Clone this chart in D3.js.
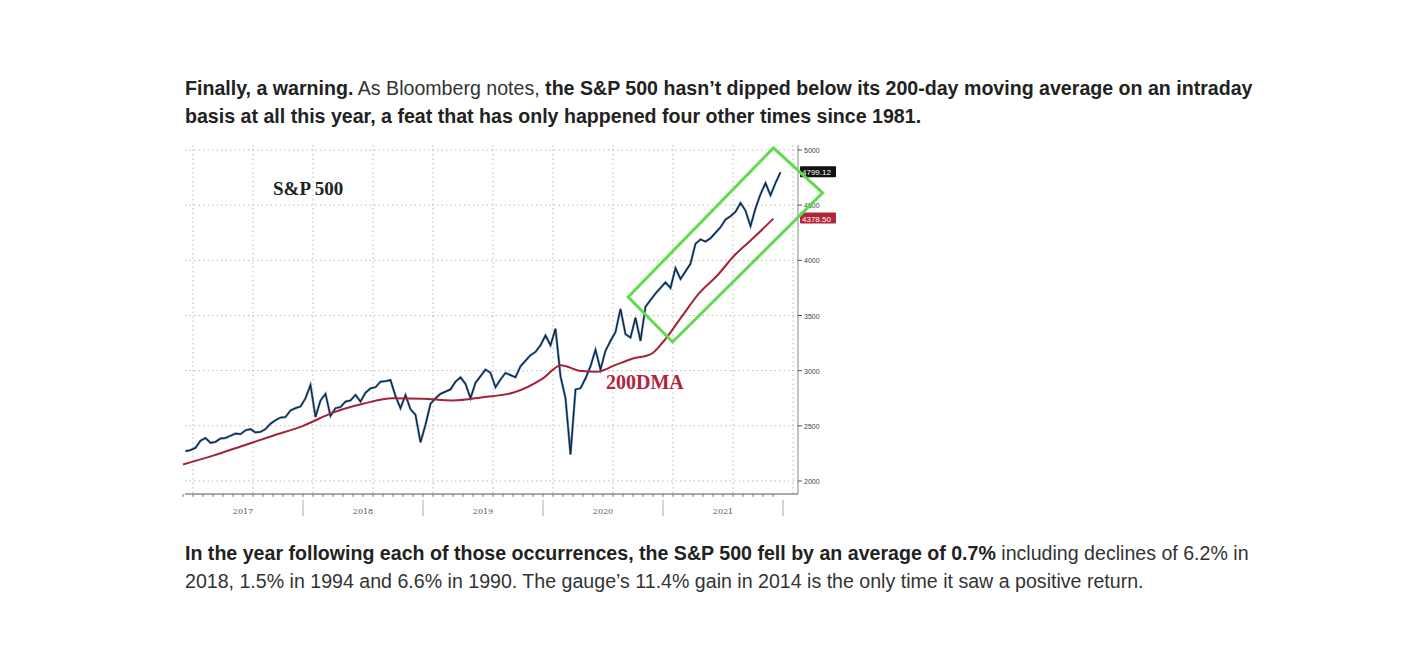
<!DOCTYPE html>
<html><head><meta charset="utf-8">
<script src="https://cdn.jsdelivr.net/npm/d3@7"></script>
<style>
body{margin:0;background:#fff;font-family:"Liberation Sans",Arial,sans-serif;}
p{position:absolute;left:185px;margin:0;font-size:19.6px;line-height:28px;color:#333;width:1075px}
b{color:#222}
</style></head><body>
<svg id="c" width="1416" height="671" style="position:absolute;left:0;top:0"></svg>
<p style="top:74px"><b>Finally, a warning.</b> As Bloomberg notes, <b>the S&amp;P 500 hasn’t dipped below its 200-day moving average on an intraday basis at all this year, a feat that has only happened four other times since 1981.</b></p>
<p style="top:539px"><b>In the year following each of those occurrences, the S&amp;P 500 fell by an average of 0.7%</b> including declines of 6.2% in 2018, 1.5% in 1994 and 6.6% in 1990. The gauge’s 11.4% gain in 2014 is the only time it saw a positive return.</p>
<script>
// semi-monthly S&P 500 levels, Jan 2017 .. Dec 2021
var spx = [
  2270,2280,2300,2365,2390,2345,2355,2385,2390,2410,2430,2425,2460,2470,2440,2445,2470,2520,2550,2575,2580,2640,2660,2675,
  2750,2870,2580,2730,2790,2590,2660,2670,2720,2730,2780,2720,2800,2840,2850,2900,2905,2915,2770,2660,2780,2650,2600,2350,
  2510,2700,2750,2790,2810,2830,2900,2940,2880,2750,2890,2950,3010,2980,2850,2920,2980,2960,2940,3040,3090,3140,3170,3230,
  3320,3230,3380,2950,2750,2240,2830,2840,2930,3040,3190,3010,3180,3270,3350,3560,3330,3300,3480,3270,3580,3640,3700,3750,
  3800,3750,3930,3830,3900,3970,4150,4190,4170,4200,4250,4300,4370,4400,4440,4520,4450,4310,4470,4600,4700,4590,4700,4799
];
// 200-day moving average readings
var dmaDates = [2017.0,2017.25,2017.5,2017.75,2018.0,2018.25,2018.5,2018.75,2019.0,2019.25,2019.5,2019.75,2020.0,2020.15,2020.3,2020.45,2020.6,2020.75,2020.9,2021.0,2021.15,2021.3,2021.45,2021.6,2021.75,2021.92];
var dmaVals = [2150,2230,2320,2410,2500,2620,2700,2750,2745,2730,2760,2800,2930,3050,3000,2990,3050,3110,3150,3260,3480,3700,3860,4050,4200,4378];
var yTicks = [2000,2500,3000,3500,4000,4500,5000];
var years = [2017,2018,2019,2020,2021];
var box = [[2020.71,3668],[2021.92,5019],[2022.33,4611],[2021.08,3260]];

var svg = d3.select('#c');
var x = d3.scaleLinear().domain([2017,2022]).range([183,783]);
var y = d3.scaleLinear().domain([2000,5000]).range([481,150]);
var pLeft = 185, pRight = 798, pTop = 145, pBottom = 494;

// dotted grid
svg.selectAll('.hg').data(yTicks).enter().append('line')
  .attr('x1', pLeft).attr('x2', pRight).attr('y1', d => y(d)).attr('y2', d => y(d))
  .attr('stroke', '#bbb').attr('stroke-dasharray', '1.5,3');
svg.selectAll('.vg').data(d3.range(2017, 2022.01, 0.5)).enter().append('line')
  .attr('x1', d => x(d) + 10).attr('x2', d => x(d) + 10).attr('y1', pTop).attr('y2', pBottom)
  .attr('stroke', '#bbb').attr('stroke-dasharray', '1.5,3');

// axes
svg.append('line').attr('x1', pRight).attr('x2', pRight).attr('y1', pTop).attr('y2', pBottom).attr('stroke', '#888');
svg.append('line').attr('x1', pLeft).attr('x2', pRight).attr('y1', pBottom).attr('y2', pBottom).attr('stroke', '#555');
svg.selectAll('.mt').data(d3.range(2017, 2022, 1/12)).enter().append('line')
  .attr('x1', d => x(d)).attr('x2', d => x(d)).attr('y1', pBottom).attr('y2', pBottom + 3).attr('stroke', '#777');
svg.selectAll('.yb').data(years.slice(1).concat([2022])).enter().append('line')
  .attr('x1', d => x(d)).attr('x2', d => x(d)).attr('y1', pBottom + 6).attr('y2', pBottom + 22).attr('stroke', '#aaa');
svg.selectAll('.yl').data(years).enter().append('text')
  .attr('x', d => x(d + 0.5)).attr('y', pBottom + 20).attr('text-anchor', 'middle')
  .attr('font-size', 8).attr('fill', '#555').attr('font-family', 'DejaVu Serif').text(d => d);
svg.selectAll('.yt').data(yTicks).enter().append('g').each(function(d) {
  var g = d3.select(this);
  g.append('line').attr('x1', pRight).attr('x2', pRight + 4).attr('y1', y(d)).attr('y2', y(d)).attr('stroke', '#555');
  g.append('text').attr('x', pRight + 6).attr('y', y(d) + 3).attr('font-size', 7).attr('fill', '#444').text(d);
});

// lines
var line = d3.line().x(d => d[0]).y(d => d[1]);
var spxPts = spx.map((v, i) => [x(2017 + i / 24 + 1 / 48), y(v)]);
svg.append('path').attr('d', line(spxPts)).attr('fill', 'none').attr('stroke', '#5b8fc9').attr('stroke-width', 2.4);
svg.append('path').attr('d', line(spxPts)).attr('fill', 'none').attr('stroke', '#15202c').attr('stroke-width', 1.2);
svg.append('path').attr('d', d3.line().curve(d3.curveMonotoneX).x((d, i) => x(dmaDates[i])).y(d => y(d))(dmaVals))
  .attr('fill', 'none').attr('stroke', '#a3243a').attr('stroke-width', 2);

// last-value labels
[[4799.12, '#111'], [4378.50, '#b3243a']].forEach(function(d) {
  svg.append('rect').attr('x', pRight + 2).attr('y', y(d[0]) - 6).attr('width', 36).attr('height', 11).attr('fill', d[1]).attr('rx', 1);
  svg.append('text').attr('x', pRight + 4).attr('y', y(d[0]) + 3).attr('font-size', 8).attr('fill', '#fff').text(d[0].toFixed(2));
});

// green channel box
svg.append('polygon').attr('points', box.map(p => x(p[0]) + ',' + y(p[1])).join(' '))
  .attr('fill', 'none').attr('stroke', '#5fdc4a').attr('stroke-width', 3);

svg.append('text').attr('x', 273).attr('y', 195).attr('font-family', 'Liberation Serif').attr('font-weight', 'bold')
  .attr('font-size', 19).attr('fill', '#222').text('S&P 500');
svg.append('text').attr('x', 606).attr('y', 389).attr('font-family', 'Liberation Serif').attr('font-weight', 'bold')
  .attr('font-size', 20).attr('fill', '#b3243a').text('200DMA');
</script>
</body></html>
